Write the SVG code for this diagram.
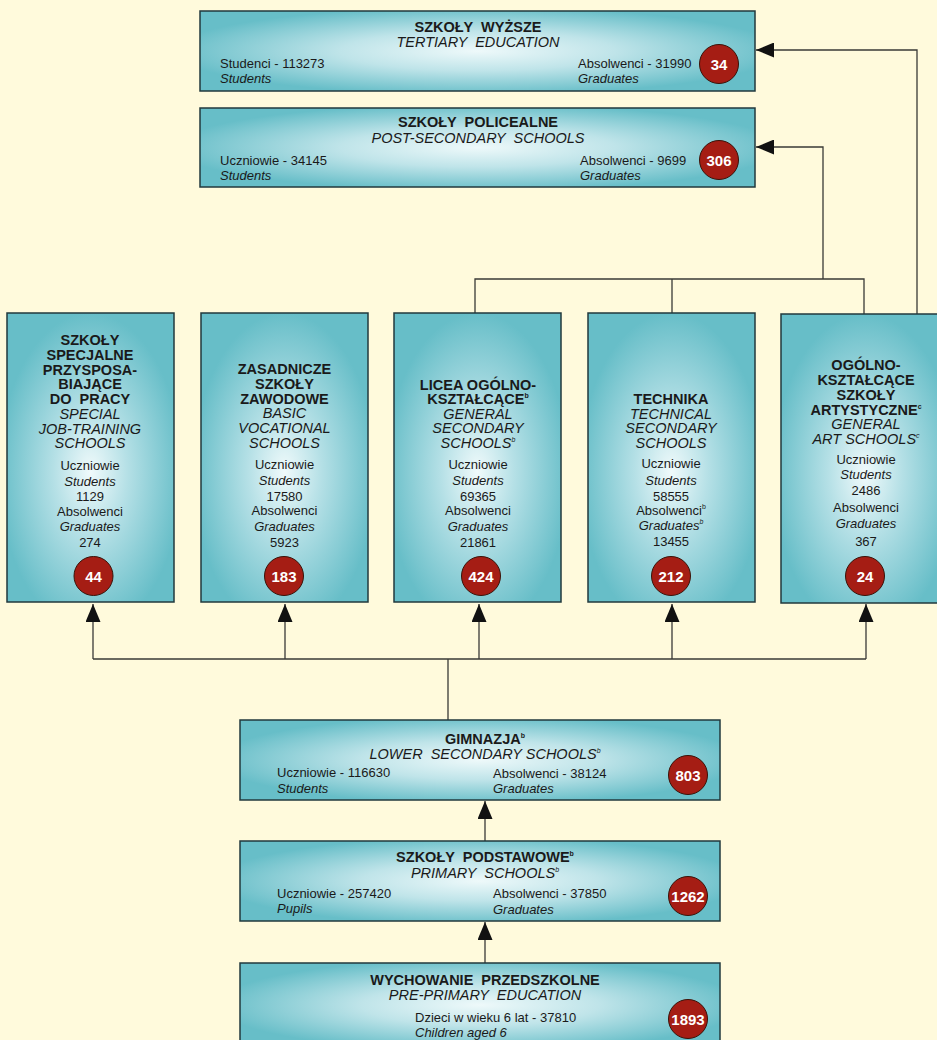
<svg xmlns="http://www.w3.org/2000/svg" width="937" height="1040" viewBox="0 0 937 1040" xml:space="preserve">
<style>
text{font-family:"Liberation Sans",Arial,sans-serif;fill:#1a1a1a;white-space:pre}
.t{font-weight:bold;font-size:14.5px}
.i{font-style:italic;font-size:14.5px}
.r{font-size:13px}
.ri{font-size:13px;font-style:italic}
.c{text-anchor:middle}
.s{font-size:7px}
.bw{fill:url(#gw);stroke:#22393c;stroke-width:1.5}
.bt{fill:url(#gt);stroke:#22393c;stroke-width:1.5}
.dot{fill:#a51d14;stroke:#3a1208;stroke-width:1}
.n{font-weight:bold;font-size:15px;fill:#fff;text-anchor:middle}
.ln{fill:none;stroke:#3a3a36;stroke-width:1.3}
</style>
<defs>
<radialGradient id="gw" cx="0.5" cy="0.5" r="0.55">
<stop offset="0" stop-color="#eef9fa"/>
<stop offset="0.45" stop-color="#bfe4e9"/>
<stop offset="1" stop-color="#67bec8"/>
</radialGradient>
<radialGradient id="gt" cx="0.5" cy="0.55" r="0.55">
<stop offset="0" stop-color="#f0fafb"/>
<stop offset="0.4" stop-color="#b5e0e6"/>
<stop offset="1" stop-color="#67bec8"/>
</radialGradient>
<marker id="ar" viewBox="0 0 18 15" refX="18" refY="7.5" markerWidth="18" markerHeight="15" markerUnits="userSpaceOnUse" orient="auto">
<path d="M0,0 L18,7.5 L0,15 z" fill="#111"/>
</marker>
</defs>
<rect x="0" y="0" width="937" height="1040" fill="#fffadc"/>

<g id="connectors">
<path class="ln" d="M448,720 V659 M93,659 H866"/>
<path class="ln" marker-end="url(#ar)" d="M93,659 V604"/>
<path class="ln" marker-end="url(#ar)" d="M285,659 V604"/>
<path class="ln" marker-end="url(#ar)" d="M479,659 V604"/>
<path class="ln" marker-end="url(#ar)" d="M672,659 V604"/>
<path class="ln" marker-end="url(#ar)" d="M866,659 V604"/>
<path class="ln" d="M475,314 V279 H864 V314 M672,279 V314"/>
<path class="ln" marker-end="url(#ar)" d="M823,279 V147 H756"/>
<path class="ln" marker-end="url(#ar)" d="M917,315 V50 H756"/>
<path class="ln" marker-end="url(#ar)" d="M485,841 V801"/>
<path class="ln" marker-end="url(#ar)" d="M485,963 V922"/>
</g>

<g id="tertiary">
<rect class="bw" x="200" y="11" width="555" height="80"/>
<text class="t c" x="478" y="32">SZKOŁY  WYŻSZE</text>
<text class="i c" x="478" y="47">TERTIARY  EDUCATION</text>
<text class="r" x="220" y="68">Studenci - 113273</text>
<text class="ri" x="220" y="83">Students</text>
<text class="r" x="578" y="68">Absolwenci - 31990</text>
<text class="ri" x="578" y="83">Graduates</text>
<circle class="dot" cx="719" cy="64" r="19.5"/>
<text class="n" x="719" y="69.5">34</text>
</g>

<g id="postsecondary">
<rect class="bw" x="200" y="108" width="555" height="79"/>
<text class="t c" x="478" y="127">SZKOŁY  POLICEALNE</text>
<text class="i c" x="478" y="142.5">POST-SECONDARY  SCHOOLS</text>
<text class="r" x="220" y="164.5">Uczniowie - 34145</text>
<text class="ri" x="220" y="180">Students</text>
<text class="r" x="580" y="164.5">Absolwenci - 9699</text>
<text class="ri" x="580" y="180">Graduates</text>
<circle class="dot" cx="719" cy="160" r="19.5"/>
<text class="n" x="719" y="165.5">306</text>
</g>

<g id="special">
<rect class="bt" x="7" y="313" width="167" height="289"/>
<text class="t c" x="90" y="345">SZKOŁY</text>
<text class="t c" x="90" y="359.5">SPECJALNE</text>
<text class="t c" x="90" y="374.5">PRZYSPOSA-</text>
<text class="t c" x="90" y="389">BIAJĄCE</text>
<text class="t c" x="90" y="404">DO  PRACY</text>
<text class="i c" x="90" y="419">SPECIAL</text>
<text class="i c" x="90" y="433.5">JOB-TRAINING</text>
<text class="i c" x="90" y="448">SCHOOLS</text>
<text class="r c" x="90" y="470">Uczniowie</text>
<text class="ri c" x="90" y="485.5">Students</text>
<text class="r c" x="90" y="500.5">1129</text>
<text class="r c" x="90" y="515.5">Absolwenci</text>
<text class="ri c" x="90" y="531">Graduates</text>
<text class="r c" x="90" y="546.5">274</text>
<circle class="dot" cx="93.5" cy="576" r="19.5"/>
<text class="n" x="93.5" y="581.5">44</text>
</g>

<g id="vocational">
<rect class="bt" x="201" y="313" width="167" height="289"/>
<text class="t c" x="284.5" y="374">ZASADNICZE</text>
<text class="t c" x="284.5" y="389">SZKOŁY</text>
<text class="t c" x="284.5" y="404">ZAWODOWE</text>
<text class="i c" x="284.5" y="418">BASIC</text>
<text class="i c" x="284.5" y="433">VOCATIONAL</text>
<text class="i c" x="284.5" y="448">SCHOOLS</text>
<text class="r c" x="284.5" y="469">Uczniowie</text>
<text class="ri c" x="284.5" y="485">Students</text>
<text class="r c" x="284.5" y="500.7">17580</text>
<text class="r c" x="284.5" y="515.3">Absolwenci</text>
<text class="ri c" x="284.5" y="530.7">Graduates</text>
<text class="r c" x="284.5" y="547">5923</text>
<circle class="dot" cx="284" cy="576" r="19.5"/>
<text class="n" x="284" y="581.5">183</text>
</g>

<g id="general">
<rect class="bt" x="394" y="313" width="167" height="289"/>
<text class="t c" x="478" y="390">LICEA OGÓLNO-</text>
<text class="t c" x="478" y="404.3">KSZTAŁCĄCE<tspan class="s" dy="-6">b</tspan></text>
<text class="i c" x="478" y="418.7">GENERAL</text>
<text class="i c" x="478" y="433.3">SECONDARY</text>
<text class="i c" x="478" y="448.3">SCHOOLS<tspan class="s" dy="-6">b</tspan></text>
<text class="r c" x="478" y="468.7">Uczniowie</text>
<text class="ri c" x="478" y="484.7">Students</text>
<text class="r c" x="478" y="500.7">69365</text>
<text class="r c" x="478" y="514.7">Absolwenci</text>
<text class="ri c" x="478" y="530.7">Graduates</text>
<text class="r c" x="478" y="546.7">21861</text>
<circle class="dot" cx="481" cy="576" r="19.5"/>
<text class="n" x="481" y="581.5">424</text>
</g>

<g id="technical">
<rect class="bt" x="588" y="313" width="167" height="289"/>
<text class="t c" x="671" y="404">TECHNIKA</text>
<text class="i c" x="671" y="419">TECHNICAL</text>
<text class="i c" x="671" y="433.3">SECONDARY</text>
<text class="i c" x="671" y="448.3">SCHOOLS</text>
<text class="r c" x="671" y="468">Uczniowie</text>
<text class="ri c" x="671" y="484.7">Students</text>
<text class="r c" x="671" y="500.7">58555</text>
<text class="r c" x="671" y="514.7">Absolwenci<tspan class="s" dy="-6">b</tspan></text>
<text class="ri c" x="671" y="530">Graduates<tspan class="s" dy="-6">b</tspan></text>
<text class="r c" x="671" y="546">13455</text>
<circle class="dot" cx="671" cy="576" r="19.5"/>
<text class="n" x="671" y="581.5">212</text>
</g>

<g id="art">
<rect class="bt" x="781" y="314" width="168" height="289"/>
<text class="t c" x="866" y="370">OGÓLNO-</text>
<text class="t c" x="866" y="385">KSZTAŁCĄCE</text>
<text class="t c" x="866" y="400">SZKOŁY</text>
<text class="t c" x="866" y="415">ARTYSTYCZNE<tspan class="s" dy="-6">c</tspan></text>
<text class="i c" x="866" y="429">GENERAL</text>
<text class="i c" x="866" y="444">ART SCHOOLS<tspan class="s" dy="-6">c</tspan></text>
<text class="r c" x="866" y="464">Uczniowie</text>
<text class="ri c" x="866" y="479.3">Students</text>
<text class="r c" x="866" y="495">2486</text>
<text class="r c" x="866" y="511.7">Absolwenci</text>
<text class="ri c" x="866" y="528.3">Graduates</text>
<text class="r c" x="866" y="545.7">367</text>
<circle class="dot" cx="865" cy="576" r="19.5"/>
<text class="n" x="865" y="581.5">24</text>
</g>

<g id="lowersecondary">
<rect class="bw" x="240" y="720" width="480" height="80"/>
<text class="t c" x="485" y="743.5">GIMNAZJA<tspan class="s" dy="-6">b</tspan></text>
<text class="i c" x="485" y="759">LOWER  SECONDARY SCHOOLS<tspan class="s" dy="-6">b</tspan></text>
<text class="r" x="277" y="777">Uczniowie - 116630</text>
<text class="ri" x="277" y="792.5">Students</text>
<text class="r" x="493" y="777.5">Absolwenci - 38124</text>
<text class="ri" x="493" y="793.3">Graduates</text>
<circle class="dot" cx="688" cy="775" r="19.5"/>
<text class="n" x="688" y="780.5">803</text>
</g>

<g id="primary">
<rect class="bw" x="240" y="841" width="480" height="80"/>
<text class="t c" x="485" y="862">SZKOŁY  PODSTAWOWE<tspan class="s" dy="-6">b</tspan></text>
<text class="i c" x="485" y="877.5">PRIMARY  SCHOOLS<tspan class="s" dy="-6">b</tspan></text>
<text class="r" x="277" y="897.7">Uczniowie - 257420</text>
<text class="ri" x="277" y="913.3">Pupils</text>
<text class="r" x="493" y="897.7">Absolwenci - 37850</text>
<text class="ri" x="493" y="914.3">Graduates</text>
<circle class="dot" cx="688" cy="896" r="19.5"/>
<text class="n" x="688" y="901.5">1262</text>
</g>

<g id="preprimary">
<rect class="bw" x="240" y="963" width="480" height="84"/>
<text class="t c" x="485" y="984.5">WYCHOWANIE  PRZEDSZKOLNE</text>
<text class="i c" x="485" y="999.5">PRE-PRIMARY  EDUCATION</text>
<text class="r" x="415" y="1021.7">Dzieci w wieku 6 lat - 37810</text>
<text class="ri" x="415" y="1036.7">Children aged 6</text>
<circle class="dot" cx="688" cy="1019" r="19.5"/>
<text class="n" x="688" y="1024.5">1893</text>
</g>
</svg>
